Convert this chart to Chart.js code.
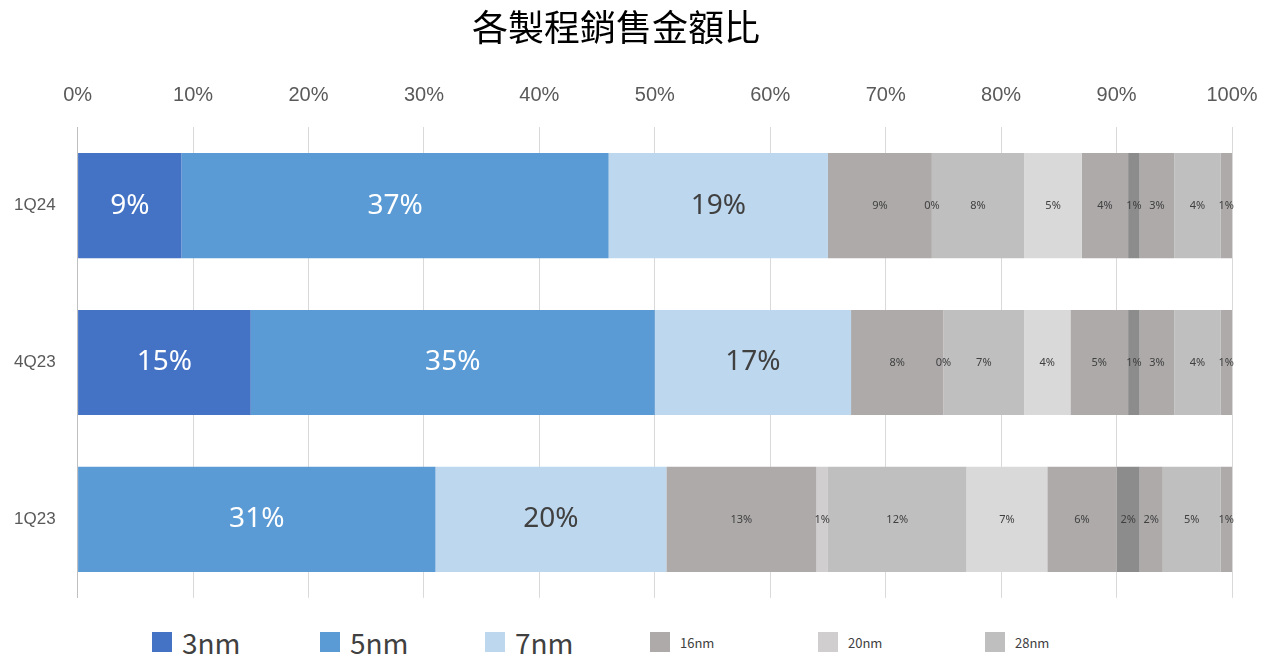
<!DOCTYPE html>
<html><head><meta charset="utf-8">
<script src="https://cdn.jsdelivr.net/npm/chart.js@4/dist/chart.umd.min.js"></script>
<style>
body{margin:0;background:#fff;font-family:"Noto Sans CJK TC","Noto Sans",sans-serif;}
#wrap{position:relative;width:1280px;height:622px;}
#legend{display:flex;align-items:center;height:40px;padding-left:152px;color:#404040;}
#legend span.item{display:flex;align-items:center;}
#legend i{display:inline-block;width:20px;height:20px;margin-right:10px;}
</style></head><body>
<div id="wrap"><canvas id="c"></canvas></div>
<div id="legend"></div>
<script>
const quarters = ['1Q24', '4Q23', '1Q23'];
const nodes = ['3nm', '5nm', '7nm', '16nm', '20nm', '28nm', '40/45nm', '65nm', '90nm', '0.11/0.13um', '0.15/0.18um', '0.25um+'];
const share = [
  [9, 15, 0],
  [37, 35, 31],
  [19, 17, 20],
  [9, 8, 13],
  [0, 0, 1],
  [8, 7, 12],
  [5, 4, 7],
  [4, 5, 6],
  [1, 1, 2],
  [3, 3, 2],
  [4, 4, 5],
  [1, 1, 1]
];
const colors = ['#4472C4', '#5B9BD5', '#BDD7EE', '#AEAAAA', '#D0CECE', '#BFBFBF', '#D9D9D9', '#AEAAAA', '#8C8C8C', '#AEAAAA', '#BFBFBF', '#AEAAAA'];

const labelPlugin = {
  id: 'segLabels',
  afterDatasetsDraw(chart) {
    const ctx = chart.ctx;
    chart.data.datasets.forEach((ds, i) => {
      chart.getDatasetMeta(i).data.forEach((bar, j) => {
        const v = ds.data[j];
        if (i === 0 && v === 0) return;
        const big = i < 3;
        ctx.save();
        ctx.font = big ? '28px "Noto Sans", sans-serif' : '11px "Noto Sans", sans-serif';
        ctx.fillStyle = i < 2 ? '#fff' : '#404040';
        ctx.textAlign = 'center';
        ctx.textBaseline = 'middle';
        ctx.fillText(v + '%', (bar.x + bar.base) / 2, bar.y);
        ctx.restore();
      });
    });
  }
};

new Chart(document.getElementById('c'), {
  type: 'bar',
  data: {
    labels: quarters,
    datasets: nodes.map((n, i) => ({
      label: n, data: share[i], backgroundColor: colors[i],
      barPercentage: 1, categoryPercentage: 0.67
    }))
  },
  options: {
    indexAxis: 'y',
    responsive: true,
    maintainAspectRatio: false,
    animation: false,
    layout: { padding: { left: 0, right: 48, top: 0, bottom: 0 } },
    scales: {
      x: {
        stacked: true, position: 'top', min: 0, max: 100,
        ticks: { stepSize: 10, callback: v => v + '%', color: '#595959', font: { size: 20 }, padding: 20 },
        grid: { color: '#D9D9D9', drawTicks: false },
        border: { display: false }
      },
      y: {
        stacked: true,
        ticks: { color: '#595959', font: { size: 17 }, padding: 14 },
        grid: { display: false },
        border: { color: '#BFBFBF' }
      }
    },
    plugins: {
      legend: { display: false },
      tooltip: { enabled: false },
      title: {
        display: true, text: '各製程銷售金額比', color: '#000',
        font: { size: 36, family: '"Noto Sans CJK TC", sans-serif', weight: 'normal' },
        padding: { top: 6, bottom: 14 }
      }
    }
  },
  plugins: [labelPlugin]
});

const legend = document.getElementById('legend');
const widths = [168, 165, 165, 168, 167, 100];
nodes.slice(0, 6).forEach((n, i) => {
  const s = document.createElement('span');
  s.className = 'item';
  s.style.width = widths[i] + 'px';
  s.style.fontSize = i < 3 ? '28px' : '13px';
  s.innerHTML = '<i style="background:' + colors[i] + '"></i>' + n;
  legend.appendChild(s);
});
</script>
</body></html>
